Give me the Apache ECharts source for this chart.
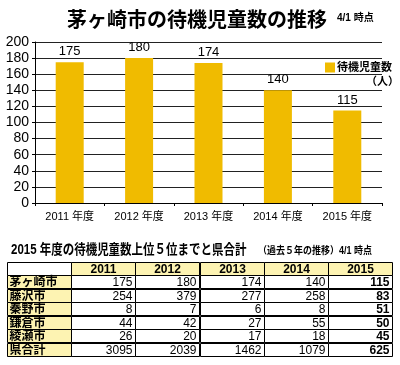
<!DOCTYPE html>
<html><head><meta charset="utf-8">
<script src="https://cdn.jsdelivr.net/npm/echarts@6/dist/echarts.min.js"></script>
<style>html,body{margin:0;padding:0;background:#fff}#c{width:400px;height:365px}</style>
</head><body><div id="c"></div>
<script>
const years = ['2011', '2012', '2013', '2014', '2015'];
const xLabels = ['2011 年度', '2012 年度', '2013 年度', '2014 年度', '2015 年度'];
const waitingChigasaki = [175, 180, 174, 140, 115];
const yTicks = [0, 20, 40, 60, 80, 100, 120, 140, 160, 180, 200];
const cities = ['茅ヶ崎市', '藤沢市', '秦野市', '鎌倉市', '綾瀬市', '県合計'];
const tChigasaki = [175, 180, 174, 140, 115];
const tFujisawa = [254, 379, 277, 258, 83];
const tHadano = [8, 7, 6, 8, 51];
const tKamakura = [44, 42, 27, 55, 50];
const tAyase = [26, 20, 17, 18, 45];
const tKenTotal = [3095, 2039, 1462, 1079, 625];
const tableRows = [tChigasaki, tFujisawa, tHadano, tKamakura, tAyase, tKenTotal];

const FONT = '"Liberation Sans", Arial, "Noto Sans CJK JP", sans-serif';

const cells = [];
const cellInfo = [];
for (let r = 0; r < 7; r++) {
  for (let c = 0; c < 6; c++) {
    let text = '', kind = 'data';
    if (r === 0 && c === 0) { kind = 'corner'; }
    else if (r === 0) { text = years[c - 1]; kind = 'head'; }
    else if (c === 0) { text = cities[r - 1]; kind = 'rowhead'; }
    else { text = String(tableRows[r - 1][c - 1]); kind = c === 5 ? 'bold' : 'data'; }
    cells.push([c, r]);
    cellInfo.push({ text, kind });
  }
}

const chart = echarts.init(document.getElementById('c'), null, { renderer: 'canvas' });
chart.setOption({
  animation: false,
  backgroundColor: '#fff',
  textStyle: { fontFamily: FONT },
  title: [{
    text: '茅ヶ崎市の待機児童数の推移',
    left: 62, top: 6,
    textStyle: { fontSize: 20, fontWeight: 'bold', color: '#000', fontFamily: FONT }
  }],
  graphic: [
    { type: 'text', left: 337, top: 13, style: { text: '4/1 時点', font: 'bold 10px ' + FONT, fill: '#000' } },
    { type: 'text', left: 366, top: 76, style: { text: '（人）', font: 'bold 11px ' + FONT, fill: '#000' } },
    { type: 'text', left: 11, top: 243, scaleX: 0.82, style: { text: '2015 年度の待機児童数上位５位までと県合計', font: 'bold 14px ' + FONT, fill: '#000' } },
    { type: 'text', left: 258, top: 246, scaleX: 0.9, style: { text: '（過去５年の推移）4/1 時点', font: 'bold 10px ' + FONT, fill: '#000' } }
  ],
  legend: {
    data: ['待機児童数'],
    left: 320, top: 57,
    icon: 'rect', itemWidth: 10, itemHeight: 10, itemGap: 2,
    textStyle: { fontSize: 11, fontWeight: 'bold', color: '#000', padding: [0, 0, 0, -3] }
  },
  grid: [
    { left: 35, right: 18, top: 42, bottom: 162 },
    { left: 7, right: 8, top: 262, bottom: 9 }
  ],
  xAxis: [{
    gridIndex: 0, type: 'category', data: xLabels,
    axisLine: { lineStyle: { color: '#000', width: 1 } },
    axisTick: { show: true, length: 3, lineStyle: { color: '#000' } },
    axisLabel: { color: '#000', fontSize: 11, margin: 8 }
  }, {
    gridIndex: 1, type: 'category', data: ['', ...years], show: false
  }],
  yAxis: [{
    gridIndex: 0, type: 'value', min: 0, max: 200, interval: 20,
    axisLine: { show: true, lineStyle: { color: '#000' } },
    axisTick: { show: true, length: 3, lineStyle: { color: '#000' } },
    axisLabel: { color: '#000', fontSize: 14, margin: 6 },
    splitLine: { lineStyle: { color: '#222', width: 1 } }
  }, {
    gridIndex: 1, type: 'category', data: ['', ...cities], inverse: true, show: false
  }],
  series: [{
    name: '待機児童数', type: 'bar', xAxisIndex: 0, yAxisIndex: 0,
    data: waitingChigasaki, barWidth: 28,
    itemStyle: { color: '#F0BB00' },
    label: { show: true, position: 'top', distance: 4, color: '#000', fontSize: 13 }
  }, {
    type: 'custom', xAxisIndex: 1, yAxisIndex: 1, data: cells,
    renderItem: function (params, api) {
      const c = api.value(0), r = api.value(1);
      const p = api.coord([c, r]);
      const s = api.size([1, 1]);
      const x0 = Math.round(p[0] - s[0] / 2) + 0.5, y0 = Math.round(p[1] - s[1] / 2) + 0.5;
      const w = Math.round(s[0]), h = Math.round(s[1]);
      const info = cellInfo[params.dataIndex];
      let fill = '#fff';
      if (info.kind === 'head' || info.kind === 'rowhead') fill = '#FDF3B2';
      let tx, align;
      if (info.kind === 'head') { tx = x0 + w / 2; align = 'center'; }
      else if (info.kind === 'rowhead') { tx = x0 + 2; align = 'left'; }
      else { tx = x0 + w - 3; align = 'right'; }
      const bold = info.kind === 'head' || info.kind === 'rowhead' || info.kind === 'bold';
      return {
        type: 'group',
        children: [
          { type: 'rect', shape: { x: x0, y: y0, width: w, height: h },
            style: { fill: fill, stroke: '#000', lineWidth: 1 } },
          { type: 'text', style: { text: info.text, x: tx, y: y0 + h / 2 + 1, align: align, verticalAlign: 'middle',
            font: (bold ? 'bold ' : '') + '12px ' + FONT, fill: '#000' } }
        ]
      };
    }
  }]
});
</script></body></html>
